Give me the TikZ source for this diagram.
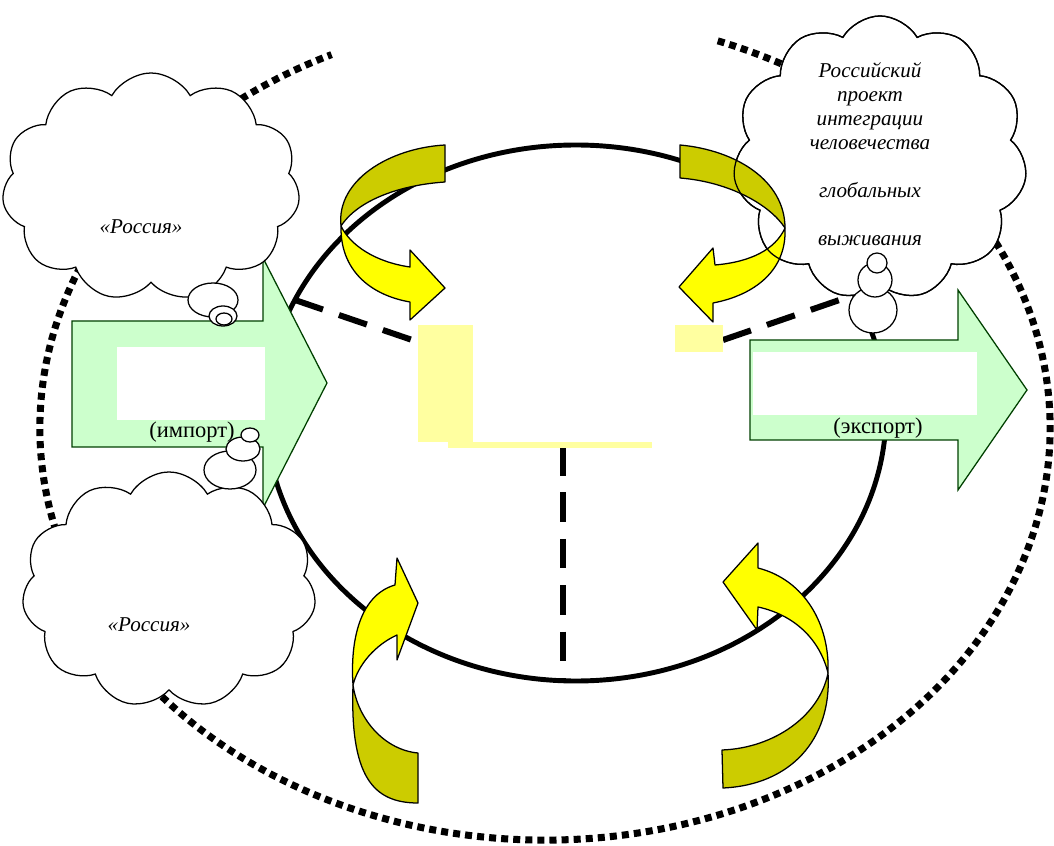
\documentclass[tikz,border=0pt]{standalone}
\usepackage{fontspec}
\setmainfont{Liberation Serif}
\usetikzlibrary{shapes.symbols}
\definecolor{twistYel}{RGB}{255,255,0}
\definecolor{twistOlive}{RGB}{204,204,0}
\definecolor{flowGreen}{RGB}{204,255,204}
\definecolor{paleYel}{RGB}{255,255,160}

\begin{document}
\begin{tikzpicture}[x=0.025cm, y=-0.025cm,
  thought/.style={draw, cloud, cloud puffs=11, cloud puff arc=120, cloud ignores aspect, inner sep=0pt, line width=0.9pt},
  bubble/.style={draw, fill=white, line width=0.9pt},
  frame/.style={line width=5pt, dash pattern=on 5pt off 3.6pt},
  split/.style={line width=4.3pt, dash pattern=on 21pt off 12pt},
  flow/.style={draw=black!75!green, line width=0.9pt, fill=flowGreen},
  twistback/.style={draw, line width=0.9pt, fill=twistOlive, line join=round},
  twistfront/.style={draw, line width=0.9pt, fill=twistYel, line join=round},
  say/.style={font=\fontsize{15}{17}\selectfont\itshape, align=center, inner sep=0pt},
  tag/.style={font=\fontsize{16}{18}\selectfont, inner sep=0pt}]

  \useasboundingbox (0,0) rectangle (1054,846);

  % outer dotted ring and inner ring
  \draw[frame] ([shift={(-70:505 and 412)}]545,428) arc[start angle=-70, end angle=245, x radius=505, y radius=412];
  \draw[line width=3.5pt] (576,413) ellipse [x radius=310, y radius=268];

  \coordinate (dl1) at (295,300);
  \coordinate (dl2) at (418,342);
  \coordinate (dr1) at (723,340);
  \coordinate (dr2) at (854,295);
  \coordinate (dv1) at (563,446);
  \coordinate (dv2) at (563,681);
  \draw[split] (dl1) -- (dl2);
  \draw[split] (dr1) -- (dr2);
  \draw[split] (dv1) -- (dv2);

  \fill[paleYel] (418,325) rectangle (473,442);
  \fill[paleYel] (448,442) rectangle (652,448);
  \fill[paleYel] (675,325) rectangle (723,352);

  % import / export
  \draw[flow] (72,321) -- (263,321) -- (263,258) -- (327,383) -- (263,508) -- (263,447) -- (72,447) -- cycle;
  \fill[white] (117,347) rectangle (265,420);
  \node[tag] (import) at (192,432) {(импорт)};
  \draw[flow] (750,340) -- (958,340) -- (958,290) -- (1027,390) -- (958,490) -- (958,440) -- (750,440) -- cycle;
  \fill[white] (753,352) rectangle (977,415);
  \node[tag] (export) at (878,428) {(экспорт)};

  % clouds
  \node[thought, fill=white, minimum width=7.45cm, minimum height=5.7cm] (cloudUL) at (151,187) {};
  \node[say] (textUL) at (141,227) {«Россия»};
  \draw[bubble] (213,300) ellipse [x radius=25, y radius=17];
  \draw[bubble] (223,316) ellipse [x radius=14, y radius=10];
  \draw[bubble] (224,319) ellipse [x radius=8, y radius=6];

  \node[thought, fill=white, minimum width=7.35cm, minimum height=5.9cm] (cloudLL) at (169,590) {};
  \node[say] (textLL) at (149,625) {«Россия»};
  \draw[bubble] (230,470) ellipse [x radius=26, y radius=19];
  \draw[bubble] (243,449) ellipse [x radius=17, y radius=12];
  \draw[bubble] (250,435) ellipse [x radius=9, y radius=7];

  \node[thought, fill=white, minimum width=7.35cm, minimum height=7.1cm] (cloudR) at (880,158) {};

  % twisted arrows
  \draw[twistback] (445,145) -- (445,182) .. controls (400,185) and (358,200) .. (341,226) .. controls (336,180) and (390,148) .. (445,145) -- cycle;
  \draw[twistfront] (341,226) .. controls (340,270) and (370,295) .. (410,302) -- (410,320) -- (445,288) -- (410,250) -- (410,267) .. controls (375,262) and (350,245) .. (341,226) -- cycle;

  \draw[twistback] (680,145) .. controls (735,150) and (785,180) .. (785,228) .. controls (770,205) and (730,182) .. (680,178) -- cycle;
  \draw[twistfront] (785,228) .. controls (787,270) and (755,295) .. (713,303) -- (713,322) -- (679,287) -- (713,248) -- (715,265) .. controls (750,262) and (775,250) .. (785,228) -- cycle;

  \draw[twistback] (353,685) .. controls (350,775) and (372,803) .. (418,803) -- (418,753) .. controls (385,750) and (358,720) .. (353,685) -- cycle;
  \draw[twistfront] (353,685) .. controls (350,640) and (360,595) .. (395,585) -- (397,558) -- (418,603) -- (397,660) -- (397,635) .. controls (375,645) and (358,665) .. (353,685) -- cycle;

  \draw[twistback] (828,673) .. controls (832,740) and (790,785) .. (723,788) -- (722,750) .. controls (775,748) and (820,715) .. (828,673) -- cycle;
  \draw[twistfront] (828,673) .. controls (830,625) and (805,580) .. (758,568) -- (758,543) -- (723,582) -- (757,630) -- (758,607) .. controls (795,615) and (820,640) .. (828,673) -- cycle;

  \node[thought, minimum width=7.35cm, minimum height=7.1cm] (cloudRline) at (880,158) {};
  \node[say] (textR) at (870,154) {Российский\\проект\\интеграции\\человечества\\[17pt]глобальных\\[17pt]выживания};
  \draw[bubble] (873,310) ellipse [x radius=24, y radius=23];
  \draw[bubble] (875,280) ellipse [x radius=17, y radius=17];
  \draw[bubble] (877,263) ellipse [x radius=10, y radius=10];
\end{tikzpicture}
\end{document}
